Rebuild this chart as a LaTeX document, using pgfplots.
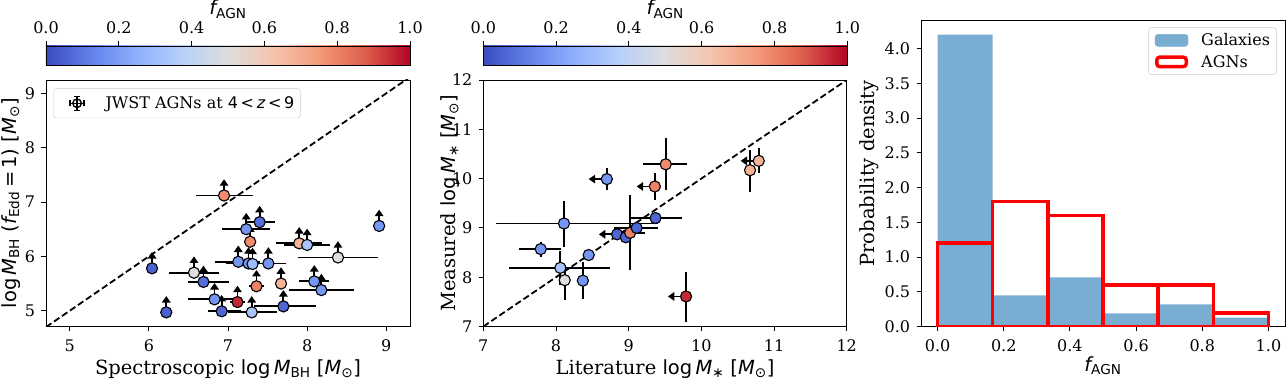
\documentclass[border=0pt]{standalone}
\usepackage{fontspec}
\setmainfont{DejaVu Serif}
\newfontfamily\dvs{DejaVu Sans}
\usepackage{pgfplots}
\usepackage{pgfplotstable}
\pgfplotsset{compat=1.18}
\usetikzlibrary{arrows.meta}

\newcommand{\Mi}[1]{{\dvs\itshape #1}}
\newcommand{\Sb}[1]{\textsubscript{\dvs #1}}

\definecolor{galc}{RGB}{121,173,210}
\pgfplotsset{colormap={coolwarm}{rgb255=(59,76,192) rgb255=(98,130,234) rgb255=(141,176,254) rgb255=(184,208,249) rgb255=(221,221,221) rgb255=(245,196,173) rgb255=(244,154,123) rgb255=(222,96,77) rgb255=(180,4,38)}}
\pgfdeclarehorizontalshading{cwshade}{100bp}{rgb(0bp)=(0.2314,0.2980,0.7529); rgb(25bp)=(0.2314,0.2980,0.7529); rgb(31.25bp)=(0.3843,0.5098,0.9176); rgb(37.5bp)=(0.5529,0.6902,0.9961); rgb(43.75bp)=(0.7216,0.8157,0.9765); rgb(50bp)=(0.8667,0.8667,0.8667); rgb(56.25bp)=(0.9608,0.7686,0.6784); rgb(62.5bp)=(0.9569,0.6039,0.4824); rgb(68.75bp)=(0.8706,0.3765,0.3020); rgb(75bp)=(0.7059,0.0157,0.1490); rgb(100bp)=(0.7059,0.0157,0.1490)}

\pgfplotstableread{
x y xm xp f
6.04 5.78 0 0 0.05
6.22 4.97 0 0 0.05
6.95 7.12 0.36 0.36 0.78
6.57 5.70 0.31 0.31 0.50
6.69 5.53 0.20 0.32 0.08
6.83 5.21 0.34 0.33 0.18
6.92 4.99 0.17 0.24 0.06
7.12 5.16 0.10 0.10 0.95
7.30 4.97 0.30 0.32 0.33
7.23 6.50 0.31 0.30 0.18
7.40 6.63 0.17 0.20 0.08
7.28 6.27 0.08 0.08 0.78
7.13 5.90 0.29 0.27 0.18
7.26 5.87 0.28 0.28 0.18
7.31 5.86 0.00 0.00 0.30
7.51 5.87 0.23 0.22 0.18
7.36 5.45 0.10 0.10 0.80
7.67 5.50 0.08 0.08 0.68
7.70 5.08 0.37 0.41 0.06
7.90 6.24 0.29 0.29 0.68
8.00 6.21 0.29 0.29 0.33
8.39 5.98 0.50 0.50 0.50
8.09 5.54 0.19 0.19 0.18
8.18 5.38 0.41 0.41 0.18
8.91 6.56 0.07 0.07 0.18
}\Ltab

\pgfplotstableread{
x y xm xp ym yp f
8.11 9.09 0.93 1.29 0.47 0.46 0.18
7.79 8.57 0.30 0.28 0.16 0.15 0.18
8.12 7.94 0 0 0.40 0.30 0.50
8.06 8.19 0.70 0.69 0.34 0.34 0.33
8.37 7.93 0.04 0.04 0.37 0.37 0.18
8.45 8.45 0.04 0.04 0.12 0.12 0.18
8.70 9.99 0 0 0.22 0.22 0.18
8.84 8.87 0 0 0 0 0.06
8.96 8.81 0.10 0.10 0 0 0.06
9.02 8.90 0.23 0.20 0.75 0.77 0.80
9.11 9.00 0.31 0.30 0 0 0.06
9.37 9.20 0.35 0.36 0 0 0.06
9.36 9.84 0 0 0.27 0.27 0.80
9.51 10.29 0.31 0.29 0.52 0.53 0.78
9.79 7.61 0 0 0.51 0.50 0.95
10.67 10.17 0 0 0.44 0.41 0.68
10.79 10.36 0 0 0.25 0.26 0.68
}\Mtab

\pgfplotstableread{
x y
8.70 9.99
8.84 8.87
9.36 9.84
9.79 7.61
10.79 10.36
}\Mlim

\pgfplotsset{
  myax/.style={scale only axis, anchor=south west,
    axis line style={line width=0.9pt}, tick style={black, line width=0.9pt},
    major tick length=4.5pt, tick align=outside, tick pos=left,
    tick label style={font=\fontsize{16}{19}\selectfont},
    xticklabel style={anchor=north, inner sep=0pt, yshift=-8.3pt},
    yticklabel style={anchor=east, inner sep=0pt, xshift=-6.2pt},
    label style={font=\fontsize{19.5}{23}\selectfont},
    point meta min=0, point meta max=1, colormap name=coolwarm},
  cbar/.style={scale only axis, anchor=south west, width=364pt, height=19pt,
    xmin=0, xmax=1, ymin=0, ymax=1, ytick=\empty, axis on top,
    xtick={0,0.2,0.4,0.6,0.8,1}, xticklabels={0.0,0.2,0.4,0.6,0.8,1.0},
    xtick pos=right, xticklabel pos=right, tick align=outside,
    major tick length=4.5pt,
    axis line style={line width=0.9pt}, tick style={black, line width=0.9pt},
    tick label style={font=\fontsize{16}{19}\selectfont},
    xticklabel style={anchor=south, inner sep=0pt},
    xticklabel shift=7.5pt,
    xlabel={{\dvs\Mi{f}\Sb{AGN}}},
    xlabel style={font=\fontsize{19.5}{23}\selectfont, at={(axis description cs:0.5,2.632)}, anchor=base}},
  ebar/.style={draw=none, mark=none, forget plot},
  scat/.style={scatter, only marks, mark=*, mark size=5.6pt, point meta=explicit,
    scatter/use mapped color={draw=black, fill=mapped color},
    mark options={line width=1.1pt}, forget plot},
  dline/.style={black, dash pattern=on 6.5pt off 3.2pt, line width=1.8pt, forget plot},
  arr/.style={black, line width=1.8pt, -{Triangle[length=6.5pt, width=8.5pt]}, mark=none, forget plot}
}

\begin{document}
\begin{tikzpicture}[x=1pt,y=1pt]
\useasboundingbox (0,0) rectangle (1286,378);

% ---------- Left colorbar
\begin{axis}[cbar, at={(46pt,313pt)}]
\shade[shading=cwshade] (axis cs:0,0) rectangle (axis cs:1,1);
\end{axis}

% ---------- Left panel
\begin{axis}[myax, at={(46pt,51.5pt)}, width=364pt, height=246.5pt,
  xmin=4.7, xmax=9.3, ymin=4.71, ymax=9.245,
  xtick={5,6,7,8,9}, xticklabels={5,6,7,8,9},
  ytick={5,6,7,8,9}, yticklabels={5,6,7,8,9},
  xlabel={Spectroscopic {\dvs log\,\Mi{M}\Sb{BH} [\Mi{M}\Sb{⊙}]}},
  ylabel={{\dvs log\,\Mi{M}\Sb{BH} (\Mi{f}\Sb{Edd}\,=\,1) [\Mi{M}\Sb{⊙}]}},
  xlabel style={at={(axis description cs:0.5,-0.1927)}, anchor=base},
  ylabel style={at={(axis description cs:-0.0824,0.5)}, anchor=base},
  legend style={at={(0.02,0.966)}, anchor=north west, draw=black!20, rounded corners=3pt,
    font=\fontsize{16}{19}\selectfont, inner xsep=6pt, inner ysep=7pt,
    nodes={inner sep=0pt}},
  legend cell align=left]
\addlegendimage{legend image code/.code={
  \fill[white, opacity=0] (0pt,-7pt) rectangle (32pt,7pt);
  \draw[black, line width=1.4pt] (17.4pt,-7pt)--(17.4pt,7pt) (10.4pt,0pt)--(24.4pt,0pt)
     (14.4pt,7pt)--(20.4pt,7pt) (14.4pt,-7pt)--(20.4pt,-7pt) (10.4pt,-3pt)--(10.4pt,3pt) (24.4pt,-3pt)--(24.4pt,3pt);
  \draw[black, line width=1.4pt] (17.4pt,0pt) circle (4.3pt);}}
\addlegendentry{\hspace{13.7pt}JWST AGNs at {\dvs 4\,<\,\textit{z}\,<\,9}}
\addplot[dline] coordinates {(4.7,4.7) (9.3,9.3)};
\addplot[ebar, error bars/.cd, x dir=both, x explicit, error mark=none,
  error bar style={draw=black, solid, line width=1.8pt}]
  table[x=x, y=y, x error minus=xm, x error plus=xp] {\Ltab};
\addplot[arr, quiver={u=0, v=0.3}] table[x=x, y=y] {\Ltab};
\addplot[scat] table[x=x, y=y, meta=f] {\Ltab};
\end{axis}

% ---------- Middle colorbar
\begin{axis}[cbar, at={(483.3pt,313pt)}]
\shade[shading=cwshade] (axis cs:0,0) rectangle (axis cs:1,1);
\end{axis}

% ---------- Middle panel
\begin{axis}[myax, at={(483.3pt,51.5pt)}, width=363.4pt, height=246.5pt,
  xmin=7, xmax=12, ymin=7, ymax=12,
  xtick={7,8,9,10,11,12}, xticklabels={7,8,9,10,11,12},
  ytick={7,8,9,10,11,12}, yticklabels={7,8,9,10,11,12},
  xlabel={Literature {\dvs log\,\Mi{M}\Sb{∗} [\Mi{M}\Sb{⊙}]}},
  ylabel={Measured {\dvs log\,\Mi{M}\Sb{∗} [\Mi{M}\Sb{⊙}]}},
  xlabel style={at={(axis description cs:0.5,-0.1927)}, anchor=base},
  ylabel style={at={(axis description cs:-0.077,0.5)}, anchor=base}]
\addplot[dline] coordinates {(7,7) (12,12)};
\addplot[ebar, error bars/.cd, x dir=both, x explicit, y dir=both, y explicit, error mark=none,
  error bar style={draw=black, solid, line width=1.8pt}]
  table[x=x, y=y, x error minus=xm, x error plus=xp, y error minus=ym, y error plus=yp] {\Mtab};
\addplot[arr, quiver={u=-0.25, v=0}] table[x=x, y=y] {\Mlim};
\addplot[scat] table[x=x, y=y, meta=f] {\Mtab};
\end{axis}

% ---------- Right panel
\begin{axis}[myax, at={(921pt,51.3pt)}, width=364pt, height=306.7pt,
  xmin=-0.05, xmax=1.05, ymin=0, ymax=4.41,
  xtick={0,0.2,0.4,0.6,0.8,1}, xticklabels={0.0,0.2,0.4,0.6,0.8,1.0},
  ytick={0,0.5,1,1.5,2,2.5,3,3.5,4}, yticklabels={0.0,0.5,1.0,1.5,2.0,2.5,3.0,3.5,4.0},
  xlabel={{\dvs\Mi{f}\Sb{AGN}}},
  ylabel={Probability density},
  xlabel style={at={(axis description cs:0.5,-0.145)}, anchor=base},
  ylabel style={at={(axis description cs:-0.129,0.5)}, anchor=base},
  legend style={at={(0.977,0.976)}, anchor=north east, draw=black!20, rounded corners=3pt,
    font=\fontsize{16}{19}\selectfont, inner xsep=6.4pt, inner ysep=6pt, row sep=8pt,
    nodes={inner sep=0pt}, /tikz/every odd column/.append style={column sep=13pt}},
  legend cell align=left]
\addlegendimage{legend image code/.code={\fill[galc] (0pt,-6pt) rectangle (33pt,6pt);}}
\addlegendentry{Galaxies}
\addlegendimage{legend image code/.code={\draw[red, line width=3.5pt] (1.75pt,-4.75pt) rectangle (31.25pt,4.75pt);}}
\addlegendentry{AGNs}
\addplot[ybar interval, fill=galc, draw=none, forget plot] coordinates {
(0,4.20) (0.166667,0.45) (0.333333,0.71) (0.5,0.19) (0.666667,0.32) (0.833333,0.13) (1,0.13)};
\addplot[ybar interval, fill=none, draw=red, line width=3.5pt, forget plot] coordinates {
(0,1.2) (0.166667,1.8) (0.333333,1.6) (0.5,0.6) (0.666667,0.6) (0.833333,0.2) (1,0.2)};
\end{axis}
\end{tikzpicture}
\end{document}
